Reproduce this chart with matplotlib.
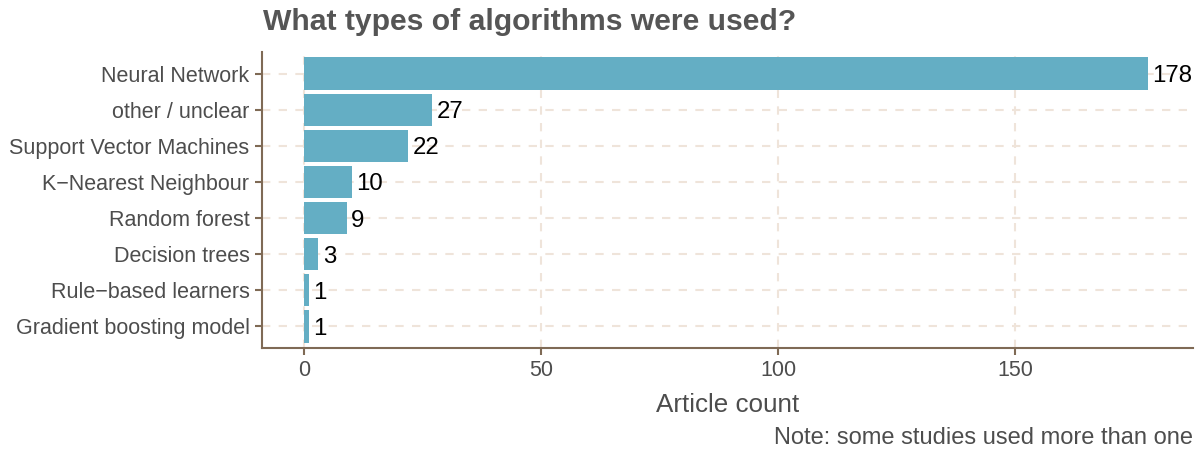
import matplotlib
matplotlib.use("Agg")
import matplotlib.pyplot as plt

categories = ["Neural Network", "other / unclear", "Support Vector Machines",
              "K\u2212Nearest Neighbour", "Random forest", "Decision trees",
              "Rule\u2212based learners", "Gradient boosting model"]
counts = [178, 27, 22, 10, 9, 3, 1, 1]
xticks = [0, 50, 100, 150]

plt.rcParams['font.family'] = ['Liberation Sans', 'DejaVu Sans']

fig = plt.figure(figsize=(12.01, 4.5), dpi=100)
ax = fig.add_axes([262/1201, 1-348/450, (1193-262)/1201, (348-52)/450])

n = len(categories)
ypos = [n - i for i in range(n)]
bar_color = '#64aec4'
spine_color = '#7f6a55'
grid_color = '#efe4da'

ax.barh(ypos, counts, height=0.9, color=bar_color, zorder=3)
for y, v in zip(ypos, counts):
    ax.text(v + 0.9, y, str(v), va='center_baseline', ha='left', fontsize=17.3,
            color='black', zorder=4)

ax.set_xlim(-8.9, 187.5)
ax.set_ylim(0.4, n + 0.6)
ax.set_yticks(ypos)
ax.set_yticklabels(categories, fontsize=15.5, color='#4d4d4d')
ax.set_xticks(xticks)
ax.set_xticklabels([str(t) for t in xticks], fontsize=15.5, color='#4d4d4d')

ax.grid(True, color=grid_color, linestyle=(0, (4, 4)), linewidth=1.5, zorder=0)
ax.set_axisbelow(True)

for s in ['top', 'right']:
    ax.spines[s].set_visible(False)
for s in ['left', 'bottom']:
    ax.spines[s].set_color(spine_color)
    ax.spines[s].set_linewidth(1.5)
ax.tick_params(axis='both', colors=spine_color, length=5, width=1.5, labelcolor='#4d4d4d')
ax.tick_params(axis='y', pad=4)
ax.tick_params(axis='x', pad=4)

ax.set_xlabel("Article count", fontsize=18.7, color='#4d4d4d', labelpad=8)

fig.text(263/1201, 1-22/450, "What types of algorithms were used?", fontsize=21.7,
         fontweight='bold', color='#555555', ha='left', va='center')
fig.text(1193/1201, 1-438/450, "Note: some studies used more than one", fontsize=17,
         color='#4d4d4d', ha='right', va='center')

fig.savefig("out.png", dpi=100)
